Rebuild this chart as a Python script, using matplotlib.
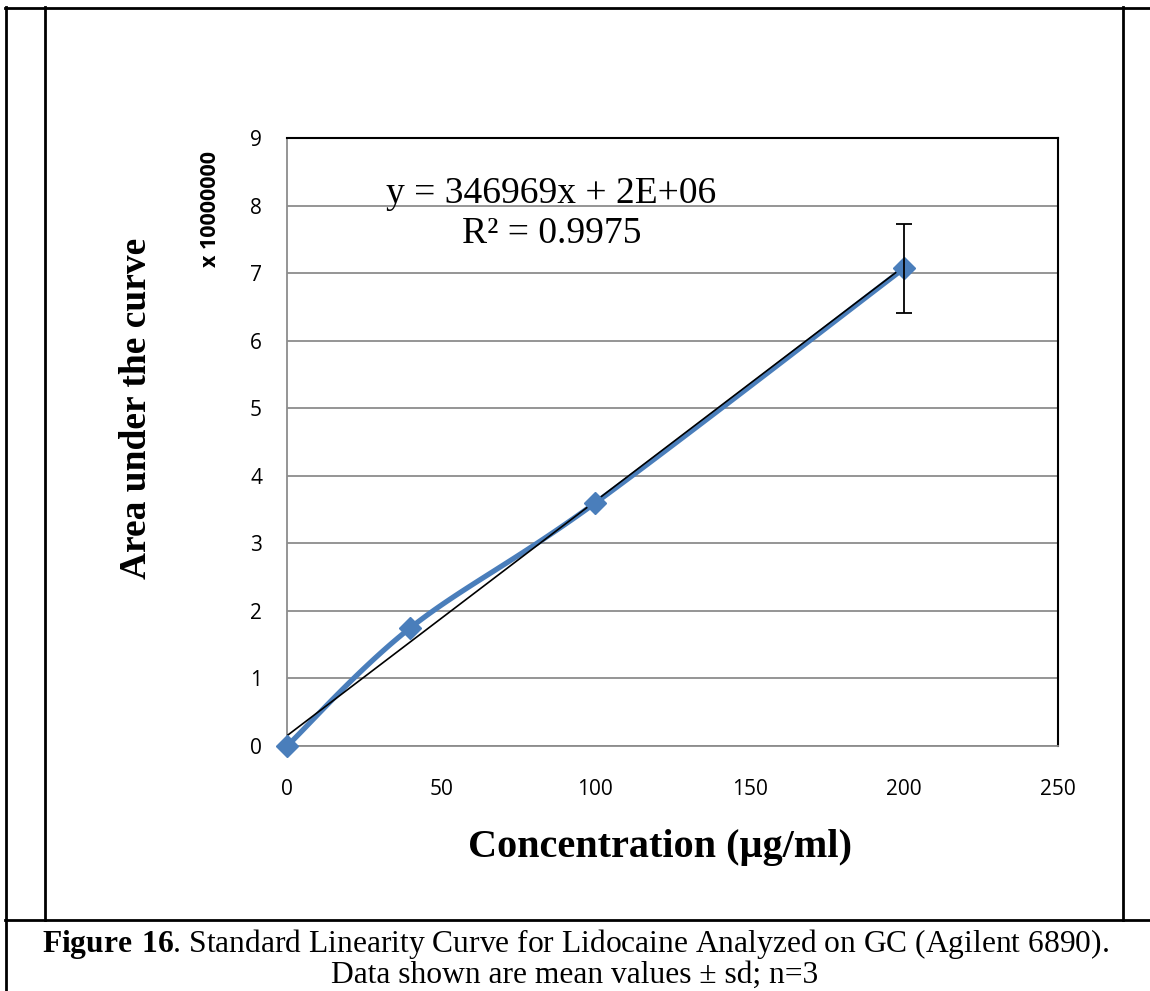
import numpy as np
import matplotlib.pyplot as plt
from matplotlib.lines import Line2D

plt.rcParams['mathtext.fontset'] = 'custom'
plt.rcParams['mathtext.rm'] = 'Liberation Serif'
plt.rcParams['mathtext.bf'] = 'Liberation Serif:bold'

# data, y in units of 1e7
conc = [0, 40, 100, 200]
area = [0.0, 1.75, 3.60, 7.07]
sd = [0.0, 0.0, 0.0, 0.66]

xticks = [0, 50, 100, 150, 200, 250]
yticks = list(range(10))

BLUE = '#4A7EBB'
GRID = '#8c8c8c'


def smooth(xs, ys, sx, sy, n=40):
    # excel-like smooth line: catmull-rom bezier in screen units
    p = np.column_stack([np.array(xs) * sx, np.array(ys) * sy])
    p = np.vstack([p[0], p, p[-1]])
    out = []
    for i in range(1, len(p) - 2):
        p0, p1, p2, p3 = p[i - 1], p[i], p[i + 1], p[i + 2]
        c1 = p1 + (p2 - p0) / 6
        c2 = p2 - (p3 - p1) / 6
        for t in np.linspace(0, 1, n):
            b = ((1 - t)**3) * p1 + 3 * ((1 - t)**2) * t * c1 + 3 * (1 - t) * t**2 * c2 + t**3 * p2
            out.append(b)
    out = np.array(out)
    return out[:, 0] / sx, out[:, 1] / sy


fig = plt.figure(figsize=(11.5, 9.91), dpi=100)
ax = fig.add_axes([0.2496, 0.2472, 0.9200 - 0.2496, 0.8607 - 0.2472])

ax.set_xlim(0, 250)
ax.set_ylim(0, 9)
ax.set_xticks(xticks)
ax.set_yticks(yticks)
for lab in ax.get_xticklabels() + ax.get_yticklabels():
    lab.set_fontfamily('Open Sans')
    lab.set_fontsize(15)
ax.tick_params(axis='y', length=0, pad=18)
ax.tick_params(axis='x', length=0, pad=24)
ax.grid(axis='y', color=GRID, lw=1.3)
ax.set_axisbelow(True)
ax.spines['left'].set_color(GRID)
ax.spines['bottom'].set_color(GRID)
ax.spines['left'].set_linewidth(1.3)
ax.spines['bottom'].set_linewidth(1.3)
ax.spines['top'].set_color('black')
ax.spines['right'].set_color('black')
ax.spines['top'].set_linewidth(1.5)
ax.spines['right'].set_linewidth(1.5)

# smoothed series (pixel scale of the axes)
sx = 771 / 250.0
sy = 608 / 9.0
cx, cy = smooth(conc, area, sx, sy)
ax.plot(cx, cy, color=BLUE, lw=3.8, solid_capstyle='round', zorder=3, clip_on=False)

# linear trendline
k, b = np.polyfit(conc, area, 1)
tx = np.array([0, max(conc)])
ax.plot(tx, k * tx + b, color='black', lw=1.2, zorder=4)

ax.plot(conc, area, 'D', color=BLUE, ms=11.5, zorder=5, clip_on=False)
ax.errorbar(conc[-1:], area[-1:], yerr=sd[-1:], fmt='none', ecolor='black',
            elinewidth=1.3, capsize=6, capthick=1.3, zorder=6)

ax.text(0.343, 0.893, 'y = 346969x + 2E+06', transform=ax.transAxes,
        ha='center', va='baseline', fontsize=27, family='Liberation Serif')
ax.text(0.343, 0.827, 'R² = 0.9975', transform=ax.transAxes,
        ha='center', va='baseline', fontsize=27, family='Liberation Serif')

fig.text(137 / 1150, 1 - 408 / 991, 'Area under the curve', rotation=90,
         ha='center', va='center', fontsize=27, fontweight='bold', family='Liberation Serif')
fig.text(211 / 1150, 1 - 209 / 991, 'x 10000000', rotation=90,
         ha='center', va='center', fontsize=15.5, fontweight='bold', family='Open Sans')
fig.text(660 / 1150, 1 - 847 / 991, 'Concentration (µg/ml)',
         ha='center', va='center', fontsize=29, fontweight='bold', family='Liberation Serif')

# table frame around the figure
def hline(y, x0, x1):
    fig.add_artist(Line2D([x0 / 1150, x1 / 1150], [1 - y / 991, 1 - y / 991], color='black', lw=2))

def vline(x, y0, y1):
    fig.add_artist(Line2D([x / 1150, x / 1150], [1 - y0 / 991, 1 - y1 / 991], color='black', lw=2))

hline(8, 5, 1150)
hline(920, 5, 1150)
vline(6, 7, 991)
vline(45, 7, 920)
vline(1123, 7, 920)

fig.text(575 / 1150, 1 - 944 / 991,
         r'$\mathbf{Figure\ 16}$. Standard Linearity Curve for Lidocaine Analyzed on GC (Agilent 6890).',
         ha='center', va='center', fontsize=22.7, family='Liberation Serif')
fig.text(575 / 1150, 1 - 975 / 991, 'Data shown are mean values ± sd; n=3',
         ha='center', va='center', fontsize=22.7, family='Liberation Serif')

plt.savefig('out.png', dpi=100)
